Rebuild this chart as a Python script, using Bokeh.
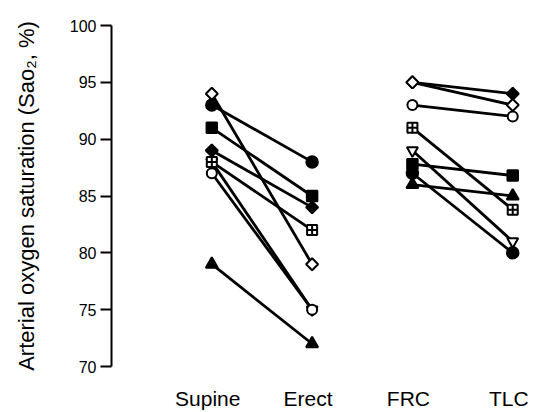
import numpy as np
from bokeh.plotting import figure
from bokeh.models import ColumnDataSource, FixedTicker, Range1d, LinearAxis
from bokeh.embed import file_html
from bokeh.resources import INLINE

# ---- data ----
categories = ["Supine", "Erect", "FRC", "TLC"]
cat_x = [1, 2, 3, 4]
y_ticks = [70, 75, 80, 85, 90, 95, 100]

# Supine -> Erect (drawn in this order; later markers on top)
left_markers = ["open_inv_triangle", "filled_triangle", "open_circle", "square_cross",
                "filled_diamond", "filled_square", "filled_circle", "open_diamond"]
supine = [88, 79, 87, 88, 89, 91, 93, 94]
erect = [75, 72, 75, 82, 84, 85, 88, 79]

# FRC -> TLC
right_markers = ["filled_diamond", "open_diamond", "open_circle", "square_cross",
                 "open_inv_triangle", "filled_square", "filled_circle", "filled_triangle"]
frc = [95, 95, 93, 91, 89, 87.8, 87, 86]
tlc = [94, 93, 92, 83.8, 81, 86.8, 80, 85]

# ---- styles ----
STYLE = {
    "open_diamond": ("square", np.pi / 4, "white", 8.5),
    "filled_diamond": ("square", np.pi / 4, "black", 8.5),
    "filled_circle": ("circle", 0.0, "black", 11.5),
    "open_circle": ("circle", 0.0, "white", 10),
    "filled_square": ("square", 0.0, "black", 10.5),
    "square_cross": ("square_cross", 0.0, "white", 10),
    "filled_triangle": ("triangle", 0.0, "black", 12),
    "open_inv_triangle": ("inverted_triangle", 0.0, "white", 11),
}

p = figure(width=537, height=412, output_backend="svg", toolbar_location=None,
           x_range=Range1d(0, 4.247), y_range=Range1d(70, 100),
           x_axis_location=None,
           min_border_left=111, min_border_right=0, min_border_top=25,
           min_border_bottom=44)
p.grid.visible = False
p.outline_line_color = None
p.background_fill_color = "white"
p.border_fill_color = "white"

ya = p.yaxis[0]
ya.ticker = FixedTicker(ticks=y_ticks)
ya.minor_tick_line_color = None
ya.major_tick_out = 11
ya.major_tick_in = 0
ya.major_tick_line_width = 2
ya.major_tick_line_color = "black"
ya.axis_line_width = 2
ya.axis_line_color = "black"
ya.major_label_text_font = "Liberation Sans"
ya.major_label_text_font_size = "16px"
ya.major_label_text_color = "black"
ya.major_label_standoff = 4
ya.axis_label = "Arterial oxygen saturation (Sao\u2082, %)"
ya.axis_label_text_font = "Liberation Sans"
ya.axis_label_text_font_size = "22px"
ya.axis_label_text_font_style = "normal"
ya.axis_label_text_color = "black"
ya.axis_label_standoff = 28

# category axis: labels sit slightly left of the marker columns
p.extra_x_ranges = {"lab": Range1d(0.04, 4.287)}
xa = LinearAxis(x_range_name="lab",
                ticker=FixedTicker(ticks=cat_x),
                major_label_overrides={x: c for x, c in zip(cat_x, categories)})
xa.axis_line_color = None
xa.major_tick_line_color = None
xa.minor_tick_line_color = None
xa.major_tick_out = 0
xa.major_tick_in = 0
xa.major_label_standoff = 20
xa.major_label_text_font = "Liberation Sans"
xa.major_label_text_font_size = "21px"
xa.major_label_text_color = "black"
p.add_layout(xa, "below")


def panel(x0, x1, y0, y1, markers):
    n = len(y0)
    p.segment(x0=[x0] * n, y0=y0, x1=[x1] * n, y1=y1,
              line_color="black", line_width=2.8)
    xs, ys, mk, ang, fc, sz = [], [], [], [], [], []
    for xv, yv in ((x0, y0), (x1, y1)):
        for name, v in zip(markers, yv):
            m, a, f, s = STYLE[name]
            xs.append(xv); ys.append(v); mk.append(m); ang.append(a); fc.append(f); sz.append(s)
    order = []
    for i in range(n):
        order += [i, i + n]
    src = ColumnDataSource(dict(x=[xs[i] for i in order], y=[ys[i] for i in order],
                                marker=[mk[i] for i in order], angle=[ang[i] for i in order],
                                fill=[fc[i] for i in order], size=[sz[i] for i in order]))
    p.scatter(x="x", y="y", marker="marker", angle="angle", size="size",
              fill_color="fill", line_color="black", line_width=2, source=src)


panel(cat_x[0], cat_x[1], supine, erect, left_markers)
panel(cat_x[2], cat_x[3], frc, tlc, right_markers)

open("out.html", "w").write(file_html(p, INLINE))
